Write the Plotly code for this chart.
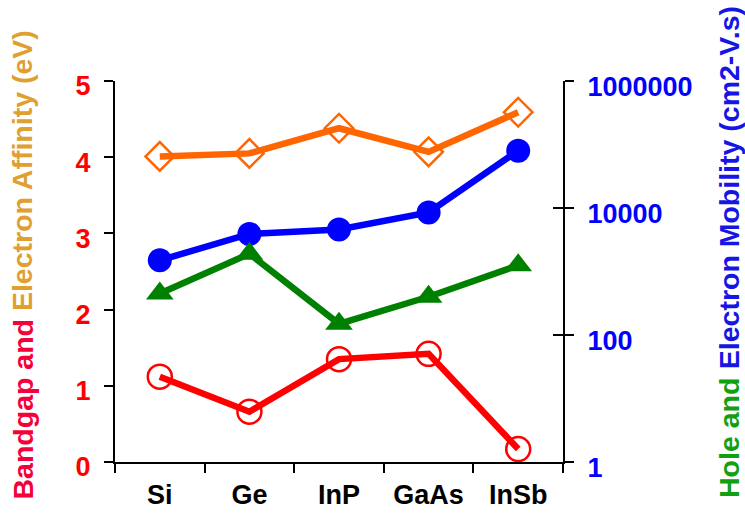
import plotly.graph_objects as go

categories = ["Si", "Ge", "InP", "GaAs", "InSb"]
electron_affinity = [4.01, 4.05, 4.38, 4.07, 4.59]
bandgap = [1.12, 0.66, 1.35, 1.42, 0.17]
electron_mobility = [1500, 3900, 4600, 8500, 80000]
hole_mobility = [450, 1900, 150, 400, 1250]
left_ticks = [0, 1, 2, 3, 4, 5]
right_ticks = [1, 100, 10000, 1000000]
right_tick_text = ["1", "100", "10000", "1000000"]

FONT = "Liberation Sans, Arial, sans-serif"
TICKFONT = 27
TITLE = 28.5

fig = go.Figure()

fig.add_trace(go.Scatter(
    x=categories, y=electron_affinity, mode="lines+markers",
    line=dict(color="#FF6600", width=6.5),
    marker=dict(symbol="diamond-open", size=22, color="#FF6600", line=dict(width=2.5)),
    yaxis="y", showlegend=False))
fig.add_trace(go.Scatter(
    x=categories, y=bandgap, mode="lines+markers",
    line=dict(color="#FF0000", width=6.5),
    marker=dict(symbol="circle-open", size=24, color="#FF0000", line=dict(width=2.5)),
    yaxis="y", showlegend=False))
fig.add_trace(go.Scatter(
    x=categories, y=electron_mobility, mode="lines+markers",
    line=dict(color="#0000FF", width=6.5),
    marker=dict(symbol="circle", size=24, color="#0000FF"),
    yaxis="y2", showlegend=False))
fig.add_trace(go.Scatter(
    x=categories, y=hole_mobility, mode="lines+markers",
    line=dict(color="#008000", width=6.5),
    marker=dict(symbol="triangle-up", size=24, color="#008000"),
    yaxis="y3", showlegend=False))

fig.update_layout(
    width=745, height=523,
    margin=dict(l=115, r=182, t=81, b=61),
    paper_bgcolor="white", plot_bgcolor="white",
    font=dict(family=FONT),
    xaxis=dict(
        type="category", range=[-0.5, 4.5], tickson="boundaries",
        ticks="outside", ticklen=9, tickwidth=2, tickcolor="black",
        showline=True, linecolor="black", linewidth=2, showgrid=False,
        tickfont=dict(size=TICKFONT, color="black", family=FONT, weight="bold"),
        ticklabelstandoff=8, zeroline=False),
    yaxis=dict(
        range=[0, 5], tickvals=left_ticks, ticks="outside", ticklen=9, tickwidth=2,
        tickcolor="black", showline=True, linecolor="black", linewidth=2,
        showgrid=False, zeroline=False,
        tickfont=dict(size=TICKFONT, color="#FF0000", family=FONT, weight="bold"),
        ticklabelstandoff=8, ticklabelshift=5),
    yaxis2=dict(
        type="log", range=[0, 6], overlaying="y", side="right", anchor="x",
        tickvals=right_ticks, ticktext=right_tick_text,
        ticks="outside", ticklen=9, tickwidth=2, tickcolor="black",
        showline=True, linecolor="black", linewidth=2, showgrid=False, zeroline=False,
        tickfont=dict(size=TICKFONT, color="#0000FF", family=FONT, weight="bold"),
        ticklabelstandoff=8, ticklabelshift=6),
    yaxis3=dict(
        type="log", range=[0, 6], overlaying="y", side="right", anchor="x",
        tickvals=right_ticks, ticks="inside", ticklen=10, tickwidth=2, tickcolor="black",
        showticklabels=False, showline=False, showgrid=False, zeroline=False),
)

# plot area in pixels: x 115..563, y 81..462
def px_x(p):
    return (p - 115) / 448.0

def px_y(p):
    return (462 - p) / 381.0

# left title (reads bottom to top), bottom at y=502
left_bottom = 502
left_split = left_bottom - 6.612 * TITLE
fig.add_annotation(
    xref="paper", yref="paper", x=px_x(22), y=px_y(left_bottom),
    xanchor="center", yanchor="bottom", textangle=-90, showarrow=False,
    text="Bandgap and", font=dict(size=TITLE, family=FONT, weight="bold", color="#F5003A"))
fig.add_annotation(
    xref="paper", yref="paper", x=px_x(22), y=px_y(left_split),
    xanchor="center", yanchor="bottom", textangle=-90, showarrow=False,
    text="Electron Affinity (eV)", font=dict(size=TITLE, family=FONT, weight="bold", color="#E0A030"))

# right title, bottom at y=500
right_bottom = 500
right_split = right_bottom - 4.501 * TITLE
fig.add_annotation(
    xref="paper", yref="paper", x=px_x(729), y=px_y(right_bottom),
    xanchor="center", yanchor="bottom", textangle=-90, showarrow=False,
    text="Hole and", font=dict(size=TITLE, family=FONT, weight="bold", color="#10A010"))
fig.add_annotation(
    xref="paper", yref="paper", x=px_x(729), y=px_y(right_split),
    xanchor="center", yanchor="bottom", textangle=-90, showarrow=False,
    text="Electron Mobility (cm2-V.s)", font=dict(size=TITLE, family=FONT, weight="bold", color="#1515E5"))

fig.write_html("out.html")
